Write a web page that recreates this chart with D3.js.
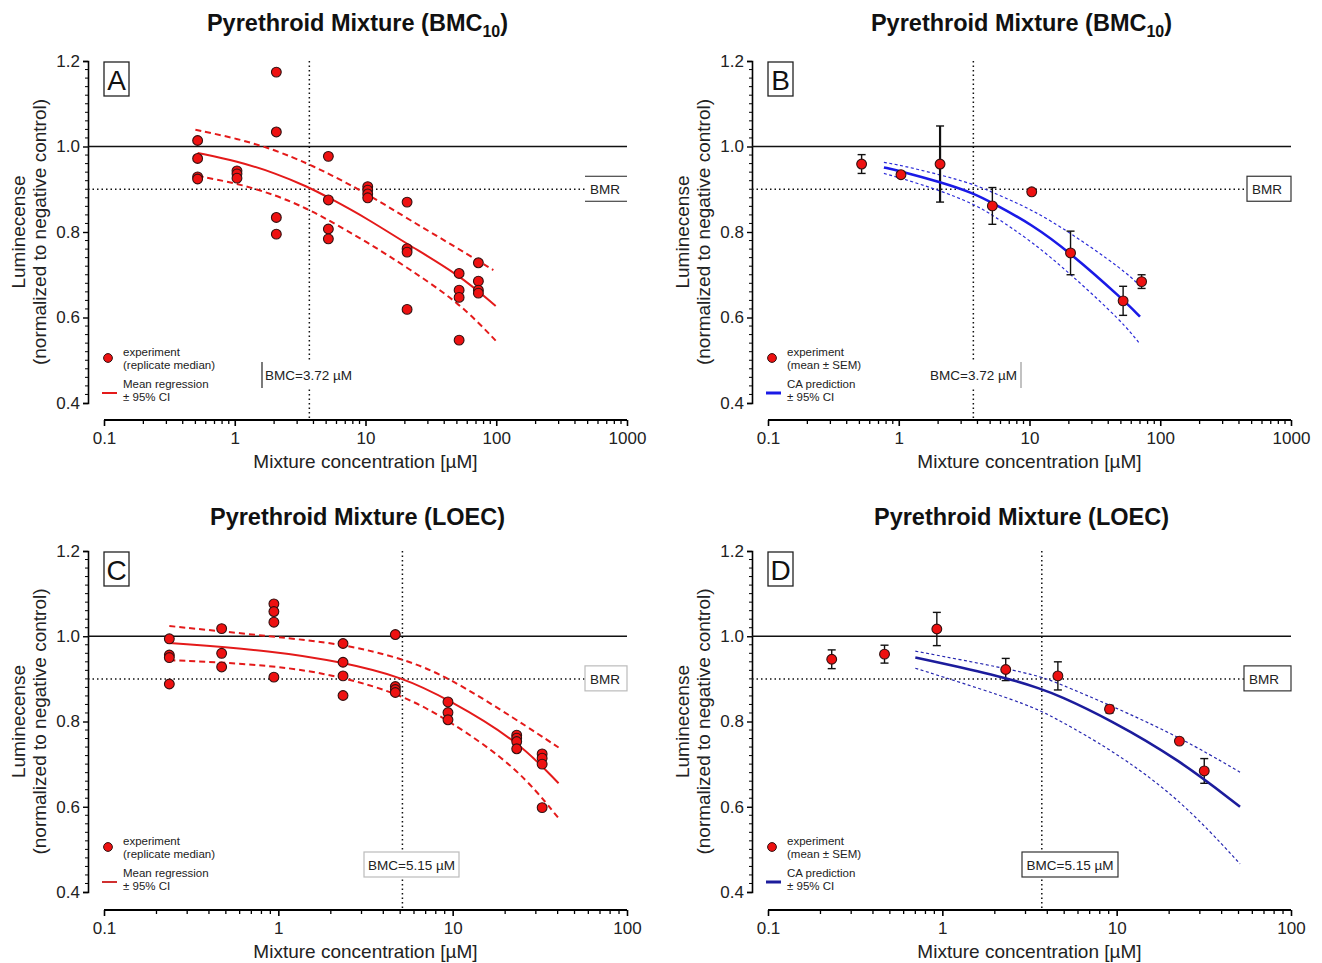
<!DOCTYPE html>
<html><head><meta charset="utf-8">
<script src="https://cdn.jsdelivr.net/npm/d3@7"></script>
<style>body{margin:0;background:#fff}</style></head>
<body>
<svg id="chart" width="1322" height="963"></svg>
<script>
// ---------- tick labels ----------
const yTickValues = [0.4, 0.6, 0.8, 1.0, 1.2];
const xTicksTop = [0.1, 1, 10, 100, 1000];
const xTicksBottom = [0.1, 1, 10, 100];

// ---------- Panel A: replicate medians + mean regression ----------
const concA = [0.52, 1.04, 2.08, 5.2, 10.4, 20.8, 52, 73];
const repA = [[1.014, 0.972, 0.929, 0.924], [0.943, 0.936, 0.926], [1.174, 1.034, 0.834, 0.795],
  [0.977, 0.875, 0.807, 0.784], [0.906, 0.898, 0.889, 0.880], [0.870, 0.761, 0.753, 0.619],
  [0.703, 0.664, 0.647, 0.547], [0.728, 0.685, 0.664, 0.657]];
const fitXA = [0.52, 1.04, 2.08, 3.6, 5.2, 10.5, 21, 52, 99];
const fitMeanA = [0.985, 0.966, 0.937, 0.906, 0.881, 0.830, 0.771, 0.700, 0.627];
const fitUpperXA = [0.5, 1.04, 2.08, 3.6, 5.2, 10.5, 21, 52, 95];
const fitUpperA = [1.039, 1.019, 0.991, 0.960, 0.937, 0.888, 0.831, 0.760, 0.711];
const fitLowerA = [0.931, 0.914, 0.886, 0.854, 0.828, 0.775, 0.716, 0.635, 0.546];

// ---------- Panel B: mean ± SEM + CA prediction ----------
const concB = [0.52, 1.04, 2.07, 5.2, 10.4, 20.6, 52, 72];
const meanB = [0.959, 0.934, 0.959, 0.861, 0.894, 0.751, 0.639, 0.684];
const semB = [0.022, 0.003, 0.089, 0.043, 0.003, 0.051, 0.034, 0.016];
const fitXB = [0.77, 1.04, 2.07, 3.72, 5.2, 10.4, 20.6, 52, 70];
const fitMeanB = [0.951, 0.942, 0.917, 0.891, 0.868, 0.818, 0.751, 0.642, 0.602];
const fitUpperB = [0.963, 0.956, 0.934, 0.912, 0.893, 0.853, 0.798, 0.712, 0.674];
const fitLowerB = [0.937, 0.926, 0.897, 0.866, 0.840, 0.778, 0.702, 0.588, 0.538];

// ---------- Panel C ----------
const concC = [0.237, 0.473, 0.943, 2.35, 4.69, 9.4, 23.3, 32.6];
const repC = [[0.994, 0.956, 0.950, 0.888], [1.018, 0.960, 0.928], [1.076, 1.058, 1.033, 0.904],
  [0.983, 0.939, 0.907, 0.861], [1.004, 0.882, 0.875, 0.868], [0.846, 0.821, 0.804],
  [0.768, 0.761, 0.753, 0.736], [0.724, 0.714, 0.700, 0.598]];
const fitXC = [0.237, 0.943, 2.35, 5.15, 9.4, 23.3, 40.5];
const fitMeanC = [0.984, 0.966, 0.939, 0.904, 0.852, 0.757, 0.655];
const fitUpperC = [1.024, 0.999, 0.982, 0.948, 0.905, 0.804, 0.739];
const fitLowerC = [0.944, 0.933, 0.905, 0.862, 0.804, 0.694, 0.573];

// ---------- Panel D ----------
const concD = [0.232, 0.466, 0.93, 2.31, 4.6, 9.1, 22.9, 31.8];
const meanD = [0.946, 0.958, 1.017, 0.922, 0.907, 0.829, 0.754, 0.684];
const semD = [0.022, 0.021, 0.039, 0.026, 0.033, 0.009, 0.003, 0.029];
const fitXD = [0.70, 2.31, 3.7, 4.6, 9.1, 22.9, 51];
const fitMeanD = [0.950, 0.904, 0.876, 0.862, 0.805, 0.710, 0.600];
const fitUpperD = [0.965, 0.925, 0.905, 0.890, 0.839, 0.764, 0.681];
const fitLowerD = [0.925, 0.858, 0.825, 0.804, 0.737, 0.620, 0.466];

// reference values
const bmrValue = 0.9;
const controlValue = 1.0;
const bmcLineA = 3.72, bmcLineB = 3.72, bmcLineC = 5.15, bmcLineD = 3.72;
const bmcTextTop = "BMC=3.72 µM";
const bmcTextBottom = "BMC=5.15 µM";

// ---------- drawing ----------
const svg = d3.select("#chart");
const FONT = "'Liberation Sans', Arial, sans-serif";
const RED = "#e41a1a";

function zipXY(xs, ys) { return xs.map((x, i) => ({x, y: ys[i]})); }

function panel(o) {
  const g = svg.append("g");
  const x = d3.scaleLog().domain(o.xDomain).range([o.x0, o.x1]);
  const y = d3.scaleLinear().domain([0.4, 1.2]).range([o.y0, o.y1]);

  // title
  const t = g.append("text").attr("x", (o.x0 + o.x1) / 2 - 8).attr("y", o.titleY)
    .attr("text-anchor", "middle").attr("font-family", FONT).attr("font-weight", "bold")
    .attr("font-size", 23.5).attr("fill", "#111");
  t.append("tspan").text(o.title);
  if (o.sub) {
    t.append("tspan").attr("font-size", 16).attr("dy", 6).text(o.sub);
    t.append("tspan").attr("dy", -6).text(")");
  }

  // y axis
  const yAxis = d3.axisLeft(y).tickValues(yTickValues).tickFormat(d3.format(".1f")).tickSize(5).tickPadding(3);
  const ya = g.append("g").attr("transform", `translate(${o.yAxisX},0)`).call(yAxis);
  ya.select(".domain").attr("stroke-width", 1.6);
  ya.selectAll(".tick line").attr("stroke-width", 1.4);
  ya.selectAll("text").attr("font-family", FONT).attr("font-size", 17).attr("fill", "#222");
  const yMinor = d3.range(0.42, 1.2, 0.02).filter(v => Math.abs(v * 5 - Math.round(v * 5)) > 1e-6);
  g.append("g").selectAll("line").data(yMinor).join("line")
    .attr("x1", o.yAxisX - 3).attr("x2", o.yAxisX).attr("y1", d => y(d)).attr("y2", d => y(d))
    .attr("stroke", "#000").attr("stroke-width", 1);

  // x axis
  const xAxis = d3.axisBottom(x).tickValues(o.xTicks).tickFormat(d => String(d)).tickSize(6).tickPadding(6);
  const xa = g.append("g").attr("transform", `translate(0,${o.xAxisY})`).call(xAxis);
  xa.select(".domain").attr("stroke-width", 2.2).attr("d", `M${o.x0},0H${o.x1}`);
  xa.selectAll(".tick line").attr("stroke-width", 1.6);
  xa.selectAll("text").attr("font-family", FONT).attr("font-size", 17).attr("fill", "#222");
  const xMinor = [];
  o.xTicks.slice(0, -1).forEach(d => { for (let k = 2; k <= 9; k++) xMinor.push(d * k); });
  g.append("g").selectAll("line").data(xMinor).join("line")
    .attr("x1", d => x(d)).attr("x2", d => x(d)).attr("y1", o.xAxisY).attr("y2", o.xAxisY + 4)
    .attr("stroke", "#000").attr("stroke-width", 1.3);

  // axis titles
  g.append("text").attr("x", (o.x0 + o.x1) / 2 + 0).attr("y", o.xAxisY + 48).attr("text-anchor", "middle")
    .attr("font-family", FONT).attr("font-size", 19).attr("fill", "#222").text("Mixture concentration [µM]");
  const cy = (o.y0 + o.y1) / 2;
  g.append("text").attr("transform", `translate(${o.yAxisX - 63},${cy}) rotate(-90)`).attr("text-anchor", "middle")
    .attr("font-family", FONT).attr("font-size", 19).attr("fill", "#222").text("Luminecense");
  g.append("text").attr("transform", `translate(${o.yAxisX - 42},${cy}) rotate(-90)`).attr("text-anchor", "middle")
    .attr("font-family", FONT).attr("font-size", 19).attr("fill", "#222").text("(normalized to negative control)");

  // reference lines
  g.append("line").attr("x1", o.yAxisX).attr("x2", o.x1).attr("y1", y(controlValue)).attr("y2", y(controlValue))
    .attr("stroke", "#111").attr("stroke-width", 1.3);
  g.append("line").attr("x1", o.yAxisX).attr("x2", o.bmr.x).attr("y1", y(bmrValue)).attr("y2", y(bmrValue))
    .attr("stroke", "#111").attr("stroke-width", 1.5).attr("stroke-dasharray", "1.5,3");
  g.append("line").attr("x1", x(o.bmcLine)).attr("x2", x(o.bmcLine)).attr("y1", o.y1).attr("y2", o.xAxisY)
    .attr("stroke", "#111").attr("stroke-width", 1.5).attr("stroke-dasharray", "1.5,3");

  // BMR label
  const by = y(bmrValue);
  const bw = o.x1 - o.bmr.x;
  if (o.bmr.style === "lines") {
    g.append("line").attr("x1", o.bmr.x).attr("x2", o.x1).attr("y1", by - 13).attr("y2", by - 13).attr("stroke", "#222").attr("stroke-width", 1.2);
    g.append("line").attr("x1", o.bmr.x).attr("x2", o.x1).attr("y1", by + 12).attr("y2", by + 12).attr("stroke", "#222").attr("stroke-width", 1.2);
  } else {
    g.append("rect").attr("x", o.bmr.x).attr("y", by - 13).attr("width", bw).attr("height", 25)
      .attr("fill", "#fff").attr("stroke", o.bmr.stroke).attr("stroke-width", 1.2);
  }
  g.append("text").attr("x", o.bmr.x + 5).attr("y", by + 5).attr("font-family", FONT).attr("font-size", 13.5)
    .attr("fill", "#222").text("BMR");

  // panel letter
  g.append("rect").attr("x", o.x0).attr("y", o.y1 + 1).attr("width", 25).attr("height", 34)
    .attr("fill", "#fff").attr("stroke", "#222").attr("stroke-width", 1.3);
  g.append("text").attr("x", o.x0 + 12.5).attr("y", o.y1 + 29).attr("text-anchor", "middle")
    .attr("font-family", FONT).attr("font-size", 28).attr("fill", "#111").text(o.letter);

  // BMC label
  const L = o.bmcLabel;
  if (L.style === "left") {
    g.append("rect").attr("x", L.x).attr("y", L.y).attr("width", L.w).attr("height", 26).attr("fill", "#fff");
    g.append("line").attr("x1", L.x).attr("x2", L.x).attr("y1", L.y).attr("y2", L.y + 26).attr("stroke", "#222").attr("stroke-width", 1.2);
    g.append("text").attr("x", L.x + 3).attr("y", L.y + 18).attr("font-family", FONT).attr("font-size", 13.5).attr("fill", "#222").text(L.text);
  } else if (L.style === "right") {
    g.append("rect").attr("x", L.x).attr("y", L.y).attr("width", L.w).attr("height", 26).attr("fill", "#fff");
    g.append("line").attr("x1", L.x + L.w).attr("x2", L.x + L.w).attr("y1", L.y).attr("y2", L.y + 26).attr("stroke", "#999").attr("stroke-width", 1.2);
    g.append("text").attr("x", L.x + L.w - 4).attr("y", L.y + 18).attr("text-anchor", "end").attr("font-family", FONT).attr("font-size", 13.5).attr("fill", "#222").text(L.text);
  } else {
    g.append("rect").attr("x", L.x).attr("y", L.y).attr("width", L.w).attr("height", 25)
      .attr("fill", "#fff").attr("stroke", L.stroke).attr("stroke-width", 1.2);
    g.append("text").attr("x", L.x + L.w / 2).attr("y", L.y + 18).attr("text-anchor", "middle").attr("font-family", FONT).attr("font-size", 13.5).attr("fill", "#222").text(L.text);
  }

  // fitted curves
  const line = d3.line().x(d => x(d.x)).y(d => y(d.y)).curve(d3.curveBasis);
  g.append("path").attr("d", line(zipXY(o.fitUpperX, o.fitUpper))).attr("fill", "none")
    .attr("stroke", o.ciColor).attr("stroke-width", o.ciWidth).attr("stroke-dasharray", o.ciDash);
  g.append("path").attr("d", line(zipXY(o.fitX, o.fitLower))).attr("fill", "none")
    .attr("stroke", o.ciColor).attr("stroke-width", o.ciWidth).attr("stroke-dasharray", o.ciDash);

  // error bars
  if (o.sem) {
    const eb = g.append("g").attr("stroke", "#111");
    o.conc.forEach((c, i) => {
      const cx = x(c), top = y(o.mean[i] + o.sem[i]), bot = y(o.mean[i] - o.sem[i]);
      const w = o.sem[i] > 0.06 ? 2.2 : 1.4;
      eb.append("line").attr("x1", cx).attr("x2", cx).attr("y1", top).attr("y2", bot).attr("stroke-width", w);
      eb.append("line").attr("x1", cx - 4).attr("x2", cx + 4).attr("y1", top).attr("y2", top).attr("stroke-width", 1.4);
      eb.append("line").attr("x1", cx - 4).attr("x2", cx + 4).attr("y1", bot).attr("y2", bot).attr("stroke-width", 1.4);
    });
  }

  g.append("path").attr("d", line(zipXY(o.fitX, o.fitMean))).attr("fill", "none")
    .attr("stroke", o.fitColor).attr("stroke-width", o.fitWidth);

  // points
  let pts = [];
  if (o.reps) o.conc.forEach((c, i) => o.reps[i].forEach(v => pts.push({x: c, y: v})));
  else pts = zipXY(o.conc, o.mean);
  g.append("g").selectAll("circle").data(pts).join("circle")
    .attr("cx", d => x(d.x)).attr("cy", d => y(d.y)).attr("r", 4.9)
    .attr("fill", "#ee1111").attr("stroke", "#331111").attr("stroke-width", 1.1);

  // legend
  const lx = o.yAxisX, ly = o.y0;
  g.append("circle").attr("cx", lx + 20).attr("cy", ly - 45).attr("r", 4.4).attr("fill", "#ee1111").attr("stroke", "#331111").attr("stroke-width", 1);
  const lt = g.append("text").attr("font-family", FONT).attr("font-size", 11.5).attr("fill", "#222");
  lt.append("tspan").attr("x", lx + 35).attr("y", ly - 47).text("experiment");
  lt.append("tspan").attr("x", lx + 35).attr("y", ly - 34).text(o.legend1);
  g.append("line").attr("x1", lx + 14).attr("x2", lx + 29).attr("y1", ly - 10).attr("y2", ly - 10)
    .attr("stroke", o.legendColor).attr("stroke-width", o.reps ? 2 : 3);
  const lt2 = g.append("text").attr("font-family", FONT).attr("font-size", 11.5).attr("fill", "#222");
  lt2.append("tspan").attr("x", lx + 35).attr("y", ly - 15).text(o.legend2);
  lt2.append("tspan").attr("x", lx + 35).attr("y", ly - 2).text("± 95% CI");
}

panel({letter: "A", title: "Pyrethroid Mixture (BMC", sub: "10", titleY: 31,
  yAxisX: 88, x0: 104, x1: 627, y0: 403, y1: 61, xAxisY: 420, xDomain: [0.1, 1000], xTicks: xTicksTop,
  conc: concA, reps: repA, fitX: fitXA, fitMean: fitMeanA, fitUpperX: fitUpperXA, fitUpper: fitUpperA, fitLower: fitLowerA,
  fitColor: RED, fitWidth: 2, ciColor: RED, ciWidth: 2, ciDash: "6,4",
  bmcLine: bmcLineA, bmr: {x: 585, style: "lines"},
  bmcLabel: {style: "left", x: 262, y: 362, w: 94, text: bmcTextTop},
  legend1: "(replicate median)", legend2: "Mean regression", legendColor: RED});
panel({letter: "B", title: "Pyrethroid Mixture (BMC", sub: "10", titleY: 31,
  yAxisX: 752, x0: 768, x1: 1291, y0: 403, y1: 61, xAxisY: 420, xDomain: [0.1, 1000], xTicks: xTicksTop,
  conc: concB, mean: meanB, sem: semB, fitX: fitXB, fitMean: fitMeanB, fitUpperX: fitXB, fitUpper: fitUpperB, fitLower: fitLowerB,
  fitColor: "#1a1ae6", fitWidth: 2.6, ciColor: "#2a2ad8", ciWidth: 1.2, ciDash: "3,2.5",
  bmcLine: bmcLineB, bmr: {x: 1247, style: "box", stroke: "#333"},
  bmcLabel: {style: "right", x: 925, y: 362, w: 96, text: bmcTextTop},
  legend1: "(mean ± SEM)", legend2: "CA prediction", legendColor: "#1a1ae6"});
panel({letter: "C", title: "Pyrethroid Mixture (LOEC)", titleY: 525,
  yAxisX: 88, x0: 104, x1: 627, y0: 892, y1: 551, xAxisY: 910, xDomain: [0.1, 100], xTicks: xTicksBottom,
  conc: concC, reps: repC, fitX: fitXC, fitMean: fitMeanC, fitUpperX: fitXC, fitUpper: fitUpperC, fitLower: fitLowerC,
  fitColor: RED, fitWidth: 2, ciColor: RED, ciWidth: 2, ciDash: "6,4",
  bmcLine: bmcLineC, bmr: {x: 585, style: "box", stroke: "#bbb"},
  bmcLabel: {style: "box", x: 364, y: 852, w: 95, stroke: "#bbb", text: bmcTextBottom},
  legend1: "(replicate median)", legend2: "Mean regression", legendColor: "#d03030"});
panel({letter: "D", title: "Pyrethroid Mixture (LOEC)", titleY: 525,
  yAxisX: 752, x0: 768, x1: 1291, y0: 892, y1: 551, xAxisY: 910, xDomain: [0.1, 100], xTicks: xTicksBottom,
  conc: concD, mean: meanD, sem: semD, fitX: fitXD, fitMean: fitMeanD, fitUpperX: fitXD, fitUpper: fitUpperD, fitLower: fitLowerD,
  fitColor: "#1c1c9c", fitWidth: 2.6, ciColor: "#2626b0", ciWidth: 1.2, ciDash: "3,2.5",
  bmcLine: bmcLineD, bmr: {x: 1244, style: "box", stroke: "#333"},
  bmcLabel: {style: "box", x: 1022, y: 852, w: 96, stroke: "#333", text: bmcTextBottom},
  legend1: "(mean ± SEM)", legend2: "CA prediction", legendColor: "#1c1c9c"});
</script>
</body></html>
